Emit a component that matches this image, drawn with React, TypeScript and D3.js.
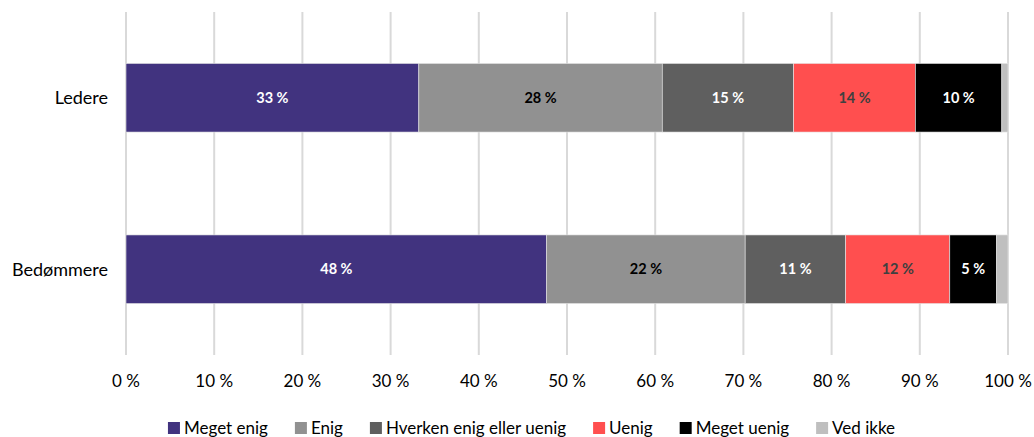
import React, { useEffect, useRef } from "react";
import * as d3 from "d3";

const categories = ["Ledere", "Bedømmere"];
const seriesNames = ["Meget enig", "Enig", "Hverken enig eller uenig", "Uenig", "Meget uenig", "Ved ikke"];
const megetEnig = [33.2, 47.7];
const enig = [27.6, 22.5];
const hverken = [14.9, 11.4];
const uenig = [13.8, 11.8];
const megetUenig = [9.8, 5.3];
const vedIkke = [0.7, 1.3];
const labelValues = [
  [33, 28, 15, 14, 10, null],
  [48, 22, 11, 12, 5, null],
];
const tickValues = [0, 10, 20, 30, 40, 50, 60, 70, 80, 90, 100];

const colors = ["#41337F", "#919191", "#5F5F5F", "#FF4F4F", "#000000", "#BFBFBF"];
const labelColors = ["#FFFFFF", "#000000", "#FFFFFF", "#404040", "#FFFFFF", "#000000"];

const W = 1034;
const H = 437;
const FONT = "Lato, 'Noto Sans', sans-serif";

export default function App() {
  const ref = useRef<SVGSVGElement>(null);

  useEffect(() => {
    const svg = d3.select(ref.current);
    svg.selectAll("*").remove();

    const x = d3.scaleLinear().domain([0, 100]).range([126, 1008]);
    const y = d3.scaleBand().domain(categories).range([12, 355]).paddingInner(0.6).paddingOuter(0.3);

    // gridlines
    svg.append("g")
      .selectAll("line")
      .data(tickValues)
      .join("line")
      .attr("x1", (d) => x(d))
      .attr("x2", (d) => x(d))
      .attr("y1", 12)
      .attr("y2", 355)
      .attr("stroke", "#D9D9D9")
      .attr("stroke-width", 2);

    const series = [megetEnig, enig, hverken, uenig, megetUenig, vedIkke];
    const rows = categories.map((c, i) => {
      const o: any = { cat: c };
      seriesNames.forEach((s, j) => (o[s] = series[j][i]));
      return o;
    });
    const stacked = d3.stack().keys(seriesNames)(rows);

    stacked.forEach((layer, j) => {
      const g = svg.append("g");
      g.selectAll("rect")
        .data(layer)
        .join("rect")
        .attr("x", (d) => x(d[0]))
        .attr("width", (d) => x(d[1]) - x(d[0]))
        .attr("y", (d: any) => y(d.data.cat)!)
        .attr("height", y.bandwidth())
        .attr("fill", colors[j])
        .attr("stroke", "#E6E6E6")
        .attr("stroke-width", 0.6);
      g.selectAll("text")
        .data(layer.map((d, i) => ({ d, v: labelValues[i][j] })).filter((e) => e.v !== null))
        .join("text")
        .attr("x", (e) => (x(e.d[0]) + x(e.d[1])) / 2)
        .attr("y", (e: any) => y(e.d.data.cat)! + y.bandwidth() / 2)
        .attr("dy", "0.35em")
        .attr("text-anchor", "middle")
        .attr("font-family", FONT)
        .attr("font-size", 14.5)
        .attr("font-weight", 700)
        .attr("fill", labelColors[j])
        .text((e) => `${e.v} %`);
    });

    // category labels
    svg.append("g")
      .selectAll("text")
      .data(categories)
      .join("text")
      .attr("x", 108)
      .attr("y", (d) => y(d)! + y.bandwidth() / 2)
      .attr("dy", "0.35em")
      .attr("text-anchor", "end")
      .attr("font-family", FONT)
      .attr("font-size", 18)
      .attr("fill", "#000")
      .text((d) => d);

    // tick labels
    svg.append("g")
      .selectAll("text")
      .data(tickValues)
      .join("text")
      .attr("x", (d) => x(d))
      .attr("y", 381)
      .attr("dy", "0.35em")
      .attr("text-anchor", "middle")
      .attr("font-family", FONT)
      .attr("font-size", 17)
      .attr("fill", "#000")
      .text((d) => `${d} %`);

    // legend
    const lg = svg.append("g");
    const items = seriesNames.map((s, j) => {
      const t = lg.append("text")
        .attr("font-family", FONT)
        .attr("font-size", 17)
        .attr("fill", "#000")
        .attr("dy", "0.35em")
        .attr("y", 428)
        .text(s);
      const w = (t.node() as SVGTextElement).getComputedTextLength();
      return { t, w, j };
    });
    const sq = 12, gapSq = 4, gapItem = 27;
    const total = items.reduce((a, it) => a + sq + gapSq + it.w, 0) + gapItem * (items.length - 1);
    let cx = 531.5 - total / 2;
    items.forEach((it) => {
      lg.append("rect")
        .attr("x", cx)
        .attr("y", 428 - sq / 2)
        .attr("width", sq)
        .attr("height", sq)
        .attr("fill", colors[it.j]);
      it.t.attr("x", cx + sq + gapSq);
      cx += sq + gapSq + it.w + gapItem;
    });
  }, []);

  return (
    <svg
      ref={ref}
      width={W}
      height={H}
      style={{ position: "absolute", left: 0, top: 0, background: "#fff" }}
    />
  );
}
